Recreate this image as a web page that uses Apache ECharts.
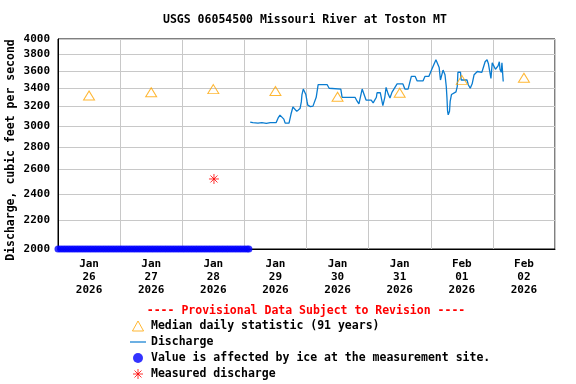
<!DOCTYPE html>
<html>
<head>
<meta charset="utf-8">
<script src="https://cdn.jsdelivr.net/npm/echarts@6/dist/echarts.min.js"></script>
<style>
html,body{margin:0;padding:0;background:#fff;}
#chart{width:576px;height:384px;}
</style>
</head>
<body>
<div id="chart"></div>
<script>
// ---------------- DATA ----------------
var titleText = 'USGS 06054500 Missouri River at Toston MT';
var yAxisTitle = 'Discharge, cubic feet per second';
var provisionalText = '---- Provisional Data Subject to Revision ----';

var yTicks = [2000, 2200, 2400, 2600, 2800, 3000, 3200, 3400, 3600, 3800, 4000];

var xStart = '01-26 00:00';
var xEnd = '02-03 00:00';
var xTickTimes = ['01-26 12:00', '01-27 12:00', '01-28 12:00', '01-29 12:00', '01-30 12:00', '01-31 12:00', '02-01 12:00', '02-02 12:00'];
var xTickLabels = ['Jan\n26\n2026', 'Jan\n27\n2026', 'Jan\n28\n2026', 'Jan\n29\n2026', 'Jan\n30\n2026', 'Jan\n31\n2026', 'Feb\n01\n2026', 'Feb\n02\n2026'];

var medianTimes = ['01-26 12:00', '01-27 12:00', '01-28 12:00', '01-29 12:00', '01-30 12:00', '01-31 12:00', '02-01 12:00', '02-02 12:00'];
var medianValues = [3320, 3355, 3390, 3370, 3306, 3350, 3495, 3520];

var dischargeTimes = [
  '01-29 02:15','01-29 03:15','01-29 04:00','01-29 05:15','01-29 06:45','01-29 08:30','01-29 10:00','01-29 12:15',
  '01-29 13:00','01-29 13:45','01-29 14:30','01-29 15:15','01-29 15:45','01-29 17:15','01-29 18:00','01-29 18:45',
  '01-29 19:30','01-29 20:15','01-29 20:45','01-29 21:30','01-29 22:00','01-29 22:15','01-29 22:45','01-29 23:30',
  '01-29 23:45','01-30 00:15','01-30 00:30','01-30 01:30','01-30 02:30','01-30 03:15','01-30 03:45','01-30 04:30',
  '01-30 08:00','01-30 08:45','01-30 13:15','01-30 13:45','01-30 18:45','01-30 19:30','01-30 20:15','01-30 20:45',
  '01-30 21:30','01-30 22:15','01-30 23:00','01-31 01:00','01-31 01:45','01-31 02:00','01-31 03:00','01-31 03:15',
  '01-31 04:30','01-31 05:30','01-31 06:15','01-31 06:45','01-31 07:30','01-31 08:15','01-31 09:00','01-31 11:00',
  '01-31 13:15','01-31 14:00','01-31 15:15','01-31 16:30','01-31 18:00','01-31 18:45','01-31 21:00','01-31 21:45',
  '01-31 23:15','02-01 00:30','02-01 02:00','02-01 02:30','02-01 03:15','02-01 03:45','02-01 04:30','02-01 04:45',
  '02-01 05:30','02-01 06:00','02-01 06:15','02-01 06:30','02-01 06:45','02-01 07:15','02-01 07:30','02-01 08:00',
  '02-01 08:45','02-01 09:45','02-01 10:15','02-01 10:30','02-01 11:30','02-01 11:45','02-01 14:00','02-01 14:30',
  '02-01 15:15','02-01 16:00','02-01 16:45','02-01 18:00','02-01 19:45','02-01 20:30','02-01 21:00','02-01 21:45',
  '02-01 22:15','02-01 23:00','02-01 23:15','02-01 23:45','02-02 00:30','02-02 01:00','02-02 01:45','02-02 02:00',
  '02-02 02:30','02-02 02:45','02-02 03:15','02-02 03:30','02-02 04:00'
];
var dischargeValues = [
  3041, 3035, 3041, 3030, 3035, 3028, 3035, 3035,
  3080, 3111, 3111, 3070, 3030, 3030, 3120, 3196,
  3196, 3150, 3140, 3180, 3250, 3330, 3391, 3391,
  3330, 3250, 3215, 3200, 3205, 3210, 3300, 3440,
  3440, 3400, 3391, 3300, 3300, 3260, 3230, 3240,
  3391, 3330, 3270, 3270, 3240, 3230, 3300, 3350,
  3350, 3210, 3300, 3410, 3340, 3292, 3354, 3449,
  3449, 3391, 3391, 3535, 3535, 3483, 3483, 3535,
  3535, 3625, 3736, 3717, 3640, 3494, 3494, 3610,
  3555, 3420, 3300, 3152, 3115, 3152, 3255, 3330,
  3340, 3360, 3420, 3584, 3584, 3494, 3494, 3440,
  3400, 3450, 3555, 3593, 3584, 3584, 3711, 3736,
  3690, 3555, 3513, 3697, 3690, 3620, 3600, 3660,
  3711, 3620, 3584, 3697, 3476
];

var iceTimes = [
  '01-26 00:00','01-26 01:00','01-26 02:00','01-26 03:00','01-26 04:00','01-26 05:00','01-26 06:00','01-26 07:00',
  '01-26 08:00','01-26 09:00','01-26 10:00','01-26 11:00','01-26 12:00','01-26 13:00','01-26 14:00','01-26 15:00',
  '01-26 16:00','01-26 17:00','01-26 18:00','01-26 19:00','01-26 20:00','01-26 21:00','01-26 22:00','01-26 23:00',
  '01-27 00:00','01-27 01:00','01-27 02:00','01-27 03:00','01-27 04:00','01-27 05:00','01-27 06:00','01-27 07:00',
  '01-27 08:00','01-27 09:00','01-27 10:00','01-27 11:00','01-27 12:00','01-27 13:00','01-27 14:00','01-27 15:00',
  '01-27 16:00','01-27 17:00','01-27 18:00','01-27 19:00','01-27 20:00','01-27 21:00','01-27 22:00','01-27 23:00',
  '01-28 00:00','01-28 01:00','01-28 02:00','01-28 03:00','01-28 04:00','01-28 05:00','01-28 06:00','01-28 07:00',
  '01-28 08:00','01-28 09:00','01-28 10:00','01-28 11:00','01-28 12:00','01-28 13:00','01-28 14:00','01-28 15:00',
  '01-28 16:00','01-28 17:00','01-28 18:00','01-28 19:00','01-28 20:00','01-28 21:00','01-28 22:00','01-28 23:00',
  '01-29 00:00','01-29 01:00','01-29 01:45'
];
var iceLevel = 2000;

var measuredTimes = ['01-28 12:15'];
var measuredValues = [2520];

var seriesNames = ['Median daily statistic (91 years)', 'Discharge', 'Value is affected by ice at the measurement site.', 'Measured discharge'];

// ---------------- HELPERS ----------------
function t(s) { return Date.parse('2026-' + s.replace(' ', 'T') + ':00Z'); }
function pairs(times, values) { return times.map(function (s, i) { return [t(s), values[i]]; }); }

var FONT = '"DejaVu Sans Mono", "Liberation Mono", monospace';
var xTickMs = xTickTimes.map(t);
var BLUE_LINE = '#0a7cd0';

var chart = echarts.init(document.getElementById('chart'), null, { renderer: 'canvas' });
chart.setOption({
  animation: false,
  backgroundColor: '#fff',
  grid: { left: 58, right: 21, top: 39, bottom: 135, show: true, borderColor: '#000', borderWidth: 1, backgroundColor: 'transparent' },
  graphic: [
    { type: 'text', left: 163, top: 14, style: { text: titleText, font: 'bold 11.5px ' + FONT, fill: '#000' } },
    { type: 'text', x: 11, y: 150, rotation: Math.PI / 2, style: { text: yAxisTitle, font: 'bold 11.5px ' + FONT, fill: '#000', align: 'center', verticalAlign: 'middle' } },
    { type: 'text', x: 306, y: 311, style: { text: provisionalText, font: 'bold 11.5px ' + FONT, fill: '#FF0000', align: 'center', verticalAlign: 'middle' } }
  ],
  xAxis: {
    type: 'value',
    min: t(xStart), max: t(xEnd), interval: 86400000,
    axisLine: { lineStyle: { color: '#000', width: 1 } },
    axisTick: { show: false },
    splitLine: { show: true, lineStyle: { color: '#c8c8c8', width: 1 } },
    axisLabel: {
      customValues: xTickMs,
      formatter: function (v) { var i = xTickMs.indexOf(v); return i >= 0 ? xTickLabels[i] : ''; },
      fontFamily: FONT, fontWeight: 'bold', fontSize: 11, lineHeight: 13, color: '#000', margin: 9
    }
  },
  yAxis: {
    type: 'log', logBase: 10, min: 2000, max: 4000,
    axisLine: { show: true, lineStyle: { color: '#000', width: 1 } },
    axisTick: { show: false, customValues: yTicks },
    splitLine: { show: true, lineStyle: { color: '#c8c8c8', width: 1 } },
    axisLabel: {
      customValues: yTicks,
      formatter: function (v) { return String(Math.round(v)); },
      fontFamily: FONT, fontWeight: 'bold', fontSize: 11, color: '#000', margin: 8
    }
  },
  legend: {
    orient: 'vertical', left: 125, top: 314, height: 80,
    itemWidth: 16, itemHeight: 10, itemGap: 2,
    textStyle: { fontFamily: FONT, fontWeight: 'bold', fontSize: 11.5, color: '#000', lineHeight: 14 },
    data: [
      { name: seriesNames[0], itemStyle: { borderWidth: 1 } },
      { name: seriesNames[1], icon: 'path://M0,0L16,0L16,1.2L0,1.2Z', itemStyle: { color: BLUE_LINE } },
      { name: seriesNames[2], icon: 'circle', itemStyle: { color: '#0000FF', borderWidth: 0 } },
      { name: seriesNames[3], itemStyle: { borderWidth: 1 } }
    ]
  },
  series: [
    {
      name: seriesNames[2], type: 'scatter', z: 2,
      data: iceTimes.map(function (s) { return [t(s), iceLevel]; }),
      symbol: 'circle', symbolSize: 7,
      itemStyle: { color: '#0000FF', borderWidth: 0 }
    },
    {
      name: seriesNames[1], type: 'line', z: 3,
      data: pairs(dischargeTimes, dischargeValues),
      symbol: 'none', showSymbol: false,
      lineStyle: { color: BLUE_LINE, width: 1.3 },
      itemStyle: { color: BLUE_LINE }
    },
    {
      name: seriesNames[0], type: 'scatter', z: 4,
      data: pairs(medianTimes, medianValues),
      symbol: 'path://M5,0L10,9L0,9Z', symbolSize: [11, 9],
      itemStyle: { color: 'rgba(0,0,0,0)', borderColor: '#FFA500', borderWidth: 1 }
    },
    {
      name: seriesNames[3], type: 'scatter', z: 5,
      data: pairs(measuredTimes, measuredValues),
      symbol: 'path://M0,5L10,5M5,0L5,10M1.5,1.5L8.5,8.5M8.5,1.5L1.5,8.5', symbolSize: 10,
      itemStyle: { color: 'rgba(0,0,0,0)', borderColor: '#FF0000', borderWidth: 1 }
    }
  ]
});
</script>
</body>
</html>
